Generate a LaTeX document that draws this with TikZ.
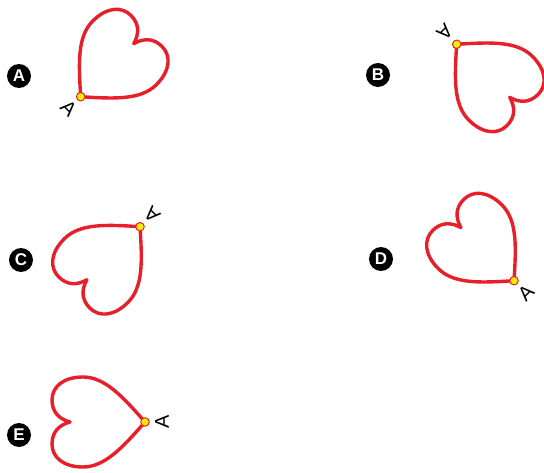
\documentclass[tikz,border=0pt]{standalone}
\usepackage{fontspec}
\setmainfont{Liberation Sans}
\usetikzlibrary{positioning}

\definecolor{heartred}{RGB}{232,30,40}
\definecolor{dotyellow}{RGB}{255,236,0}

\begin{document}
\begin{tikzpicture}[
        x=1pt, y=1pt,
        heartline/.style={draw=heartred, line width=3.4pt, line join=round},
        tipdot/.style={circle, fill=dotyellow, draw=heartred, line width=1pt, minimum size=8.5pt, inner sep=0pt},
        tiplabel/.style={font=\fontsize{20}{20}\selectfont, inner sep=0pt, transform shape},
        badge/.style={circle, fill=black, text=white, minimum size=24pt, inner sep=0pt, font=\fontsize{17}{17}\selectfont\bfseries},
        heart/.pic={
            \draw [heartline] (0,0) .. controls (-25,22) and (-45,40) .. (-45,62)
                .. controls (-45,82) and (-35,93) .. (-22,93)
                .. controls (-10,93) and (-3,86) .. (0,75)
                .. controls (3,86) and (10,93) .. (22,93)
                .. controls (35,93) and (45,82) .. (45,62)
                .. controls (45,40) and (25,22) .. (0,0) -- cycle;
            \node (-tip) [tipdot] at (0,0) {};
            \node (-lbl) [tiplabel] at (0,-17) {A};
        }
    ]
    \useasboundingbox (0,0) rectangle (544,472);

    % Left column
    \node (bA) [badge] at (19,396) {A};
    \pic (hA) [rotate=-45] at (80.7,375.3) {heart};

    \node (bC) [badge] at (21,212) {C};
    \pic (hC) [rotate=135] at (140,245.3) {heart};

    \node (bE) [badge] at (19,37) {E};
    \pic (hE) [rotate=90] at (145,50) {heart};

    % Right column
    \node (bB) [badge] at (378,397) {B};
    \pic (hB) [rotate=225] at (456.7,427.7) {heart};

    \node (bD) [badge] at (381,213) {D};
    \pic (hD) [rotate=45] at (514,191.3) {heart};
\end{tikzpicture}
\end{document}
